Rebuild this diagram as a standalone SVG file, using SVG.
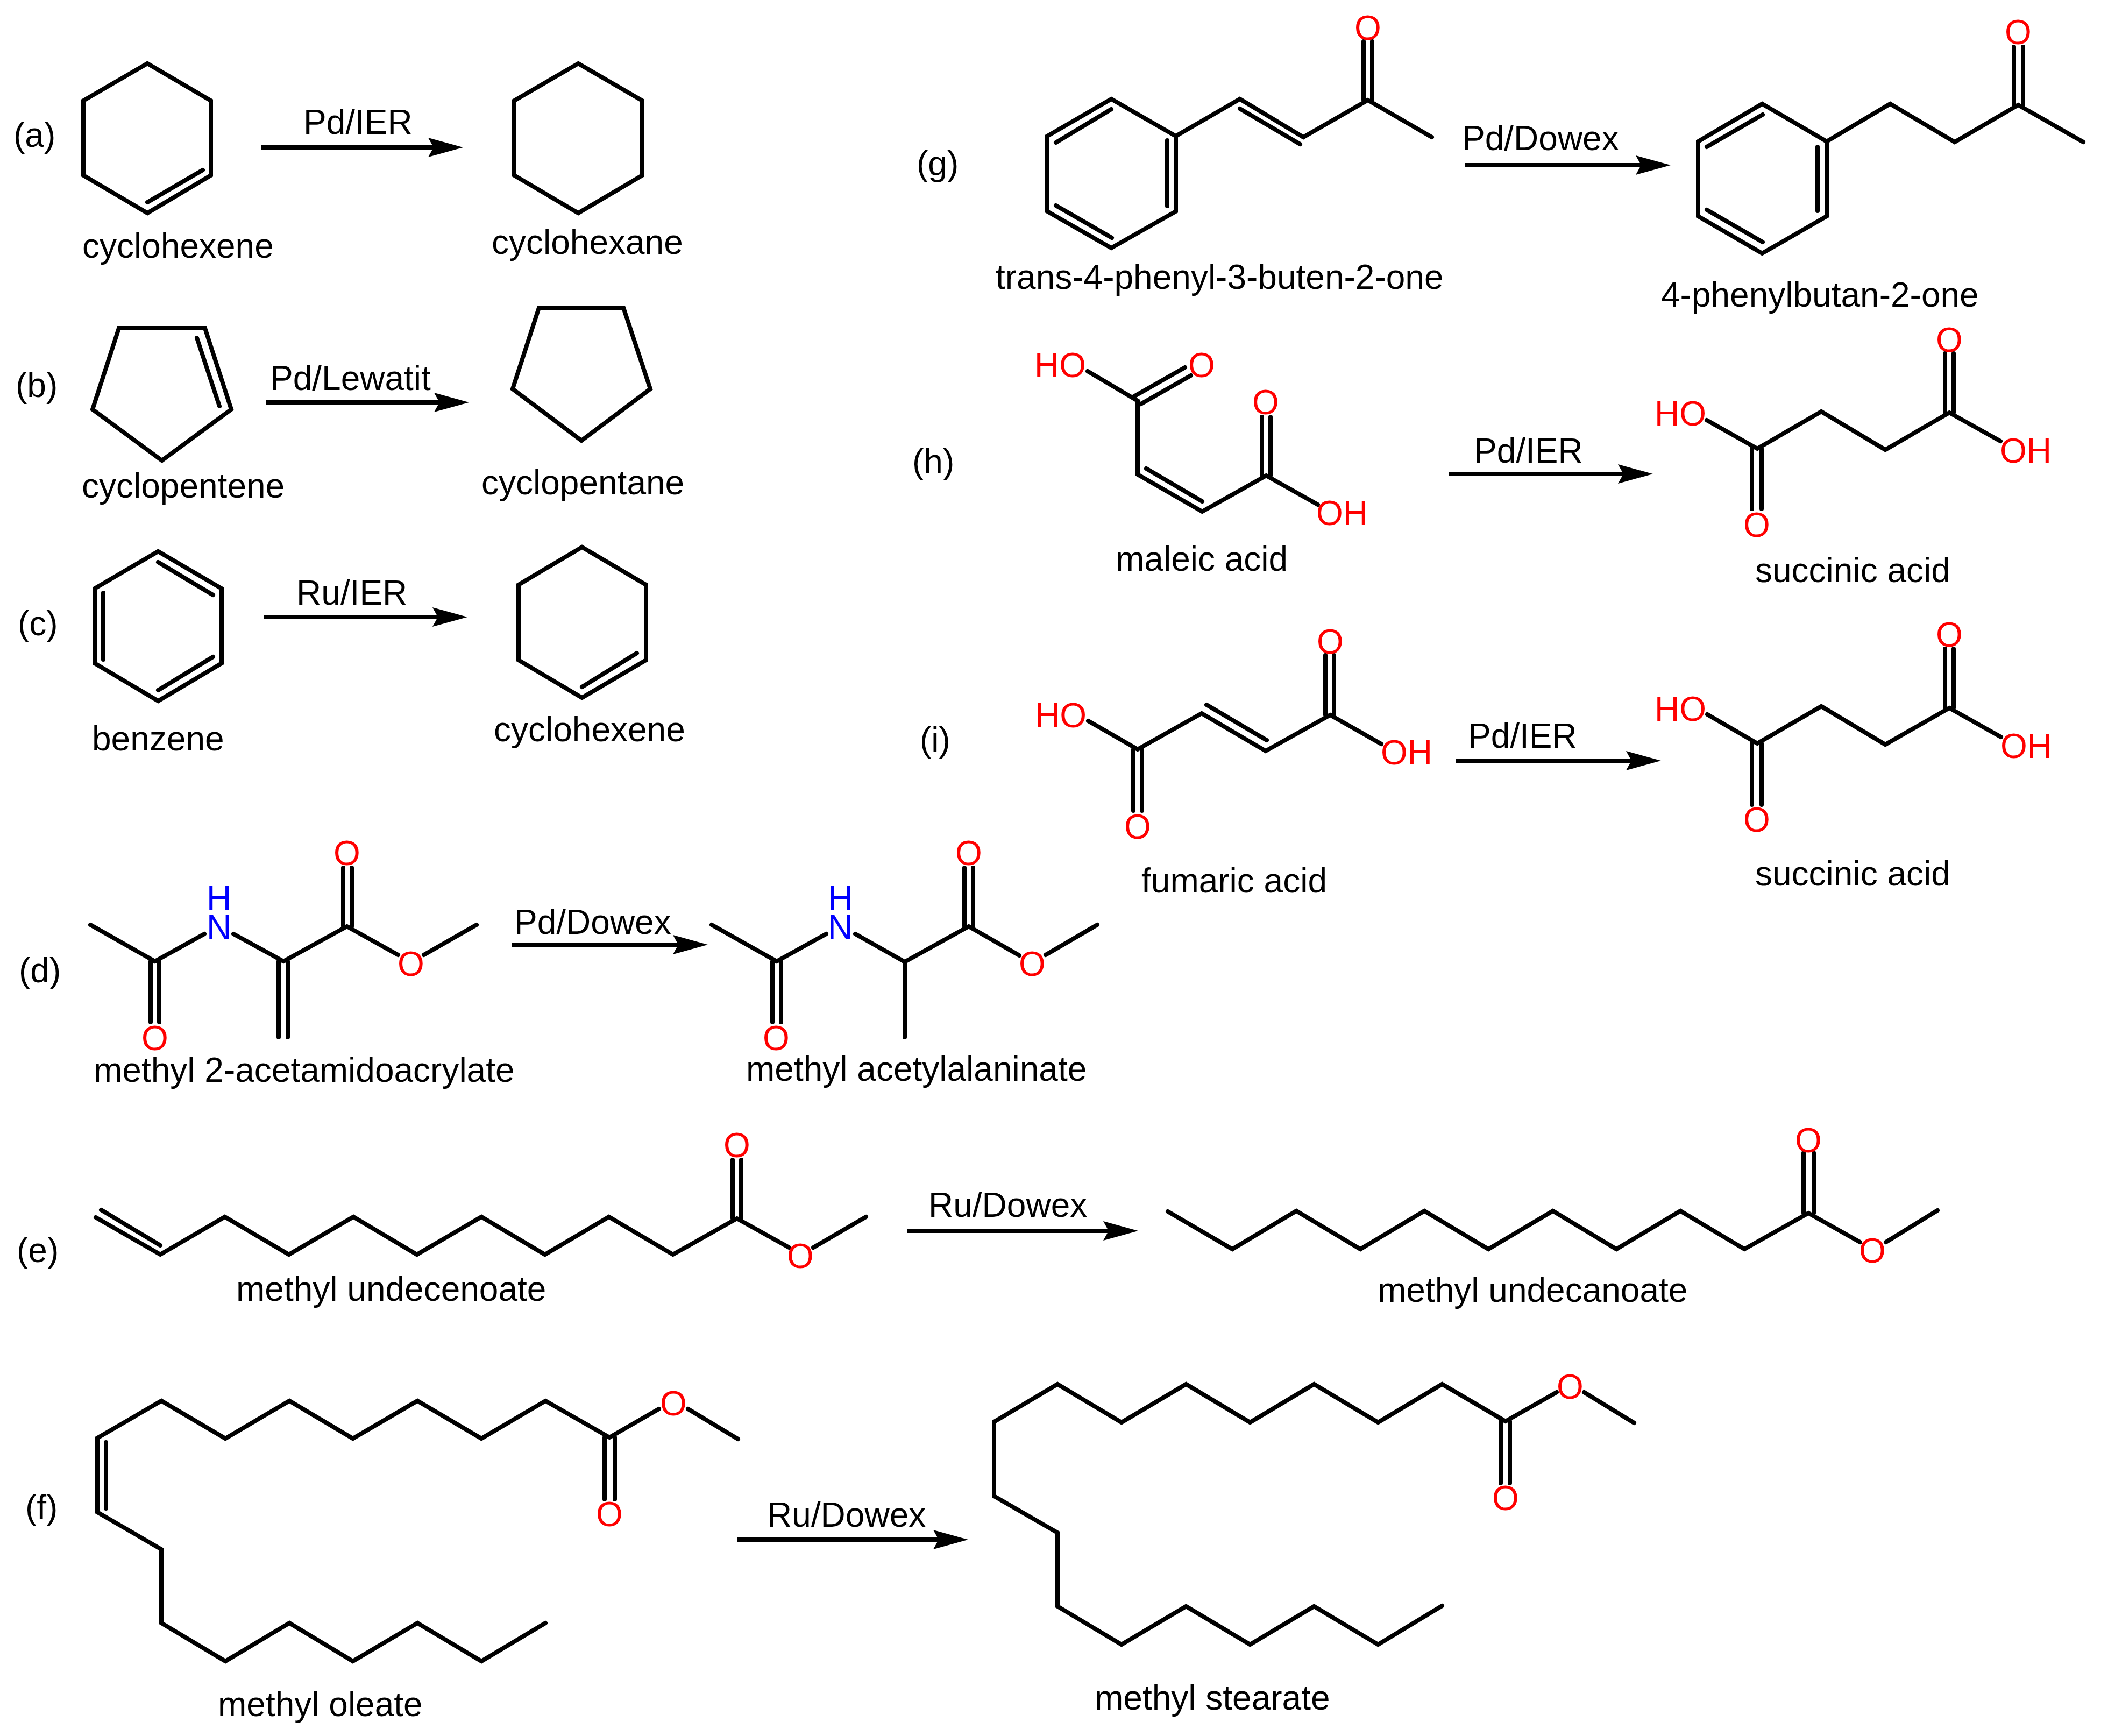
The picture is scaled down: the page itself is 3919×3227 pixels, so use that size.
<svg xmlns="http://www.w3.org/2000/svg" width="3919" height="3227" viewBox="0 0 3919 3227">
<style>
text{font-family:"Liberation Sans",Arial,sans-serif;font-size:64px;fill:#000}
.b{fill:none;stroke:#000;stroke-width:8;stroke-linecap:round;stroke-linejoin:miter;stroke-miterlimit:6}
.o{fill:#f00;text-anchor:middle}
.r{fill:#f00}
.n{fill:#00f;text-anchor:middle}
.a{fill:none;stroke:#000;stroke-width:8;marker-end:url(#head)}
</style>
<defs><marker id="head" markerUnits="userSpaceOnUse" markerWidth="65" markerHeight="36" viewBox="0 0 65 36" refX="12" refY="18" orient="auto"><path d="M0 0L65 18L0 36L10 18Z" fill="#000"/></marker></defs>
<rect width="3919" height="3227" fill="#fff"/>
<g id="connectors">
<path class="a" d="M485 274H808"/>
<path class="a" d="M495 748H819"/>
<path class="a" d="M491 1147H816"/>
<path class="a" d="M952 1756H1263"/>
<path class="a" d="M1686 2288H2063"/>
<path class="a" d="M1371 2862H1747"/>
<path class="a" d="M2724 307H3053"/>
<path class="a" d="M2693 881H3020"/>
<path class="a" d="M2707 1414H3035"/>
</g>
<g id="rxn-labels">
<text x="564" y="249">Pd/IER</text>
<text x="502" y="725">Pd/Lewatit</text>
<text x="551" y="1124">Ru/IER</text>
<text x="956" y="1736">Pd/Dowex</text>
<text x="1726" y="2262">Ru/Dowex</text>
<text x="1426" y="2838">Ru/Dowex</text>
<text x="2718" y="279">Pd/Dowex</text>
<text x="2740" y="860">Pd/IER</text>
<text x="2729" y="1390">Pd/IER</text>
<text x="25" y="273">(a)</text>
<text x="29" y="738">(b)</text>
<text x="33" y="1181">(c)</text>
<text x="35" y="1826">(d)</text>
<text x="31" y="2346">(e)</text>
<text x="47" y="2824">(f)</text>
<text x="1704" y="326">(g)</text>
<text x="1696" y="880">(h)</text>
<text x="1710" y="1397">(i)</text>
</g>
<g id="cyclohexene-a">
<path class="b" d="M274 118L392 187V326L274 396L155 326V187ZM377 316L274 376"/>
<text x="153" y="479">cyclohexene</text>
</g>
<g id="cyclohexane">
<path class="b" d="M1075 118L1194 187V326L1075 396L956 326V187Z"/>
<text x="914" y="472">cyclohexane</text>
</g>
<g id="cyclopentene">
<path class="b" d="M221 610H381L430 761L301 856L172 761ZM366 628L408 755"/>
<text x="152" y="925">cyclopentene</text>
</g>
<g id="cyclopentane">
<path class="b" d="M1002 572H1159L1209 723L1081 819L953 723Z"/>
<text x="895" y="919">cyclopentane</text>
</g>
<g id="benzene">
<path class="b" d="M294 1025L412 1094V1233L294 1303L176 1233V1094ZM294 1045L396 1106M192 1102V1226M396 1221L294 1283"/>
<text x="171" y="1395">benzene</text>
</g>
<g id="cyclohexene-c">
<path class="b" d="M1082 1017L1201 1087V1227L1082 1297L964 1227V1087ZM1184 1214L1082 1277"/>
<text x="918" y="1378">cyclohexene</text>
</g>
<g id="methyl-2-acetamidoacrylate">
<path class="b" d="M168 1719L288 1787L380 1736M280 1787V1900M296 1787V1900M434 1736L527 1787L645 1722L740 1775M788 1775L886 1719M518 1787V1928M535 1787V1928M638 1722V1613M654 1722V1613"/>
<text class="n"><tspan x="407" y="1692">H</tspan><tspan x="407" y="1746">N</tspan></text>
<text class="o" x="645" y="1608">O</text><text class="o" x="288" y="1952">O</text><text class="o" x="764" y="1814">O</text>
<text x="174" y="2011">methyl 2-acetamidoacrylate</text>
</g>
<g id="methyl-acetylalaninate">
<path class="b" d="M1323 1719L1444 1787L1536 1736M1436 1787V1900M1452 1787V1900M1590 1736L1682 1788L1801 1722L1895 1776M1944 1775L2040 1719M1682 1788V1928M1793 1722V1613M1809 1722V1613"/>
<text class="n"><tspan x="1562" y="1692">H</tspan><tspan x="1562" y="1746">N</tspan></text>
<text class="o" x="1801" y="1608">O</text><text class="o" x="1443" y="1952">O</text><text class="o" x="1919" y="1814">O</text>
<text x="1387" y="2009">methyl acetylalaninate</text>
</g>
<g id="methyl-undecenoate">
<path class="b" d="M178 2263L298 2332L418 2262L537 2332L657 2262L775 2332L895 2262L1013 2332L1132 2262L1251 2332L1370 2265L1467 2319M188 2249L298 2315M1512 2319L1610 2262M1362 2265V2156M1378 2265V2156"/>
<text class="o" x="1370" y="2151">O</text><text class="o" x="1488" y="2357">O</text>
<text x="439" y="2418">methyl undecenoate</text>
</g>
<g id="methyl-undecanoate">
<path class="b" d="M2171 2252L2291 2322L2410 2251L2529 2322L2648 2251L2767 2322L2887 2251L3005 2322L3124 2251L3243 2322L3362 2255L3458 2309M3506 2309L3602 2250M3353 2255V2143M3372 2255V2143"/>
<text class="o" x="3362" y="2142">O</text><text class="o" x="3481" y="2347">O</text>
<text x="2561" y="2420">methyl undecanoate</text>
</g>
<g id="methyl-oleate">
<path class="b" d="M1014 3017L895 3088L776 3017L656 3088L538 3017L419 3088L300 3017V2880L181 2811V2673L300 2604L419 2674L538 2604L656 2674L776 2604L895 2674L1014 2604L1133 2672L1225 2619M1279 2619L1372 2675M197 2681V2804M1124 2672V2787M1143 2672V2787"/>
<text class="o" x="1252" y="2631">O</text><text class="o" x="1133" y="2837">O</text>
<text x="405" y="3190">methyl oleate</text>
</g>
<g id="methyl-stearate">
<path class="b" d="M2681 2985L2562 3057L2443 2986L2324 3057L2205 2986L2085 3057L1966 2986V2849L1848 2781V2643L1966 2573L2085 2644L2205 2573L2324 2644L2443 2573L2562 2644L2681 2573L2799 2642L2894 2588M2945 2588L3038 2645M2790 2642V2757M2807 2642V2757"/>
<text class="o" x="2919" y="2600">O</text><text class="o" x="2799" y="2807">O</text>
<text x="2035" y="3178">methyl stearate</text>
</g>
<g id="trans-4-phenyl-3-buten-2-one">
<path class="b" d="M2066 184L2186 253V393L2066 461L1947 393V253ZM1963 265L2066 203M2170 261V383M1963 382L2067 442M2186 253L2305 184L2423 255L2543 186L2662 255M2305 202L2417 268M2535 186V77M2551 186V77"/>
<text class="o" x="2543" y="74">O</text>
<text x="1851" y="537">trans-4-phenyl-3-buten-2-one</text>
</g>
<g id="4-phenylbutan-2-one">
<path class="b" d="M3276 193L3396 263V402L3276 471L3157 402V263ZM3173 273L3277 213M3379 273V392M3173 390L3277 450M3396 263L3514 193L3634 264L3752 195L3873 264M3744 195V87M3761 195V87"/>
<text class="o" x="3752" y="82">O</text>
<text x="3088" y="570">4-phenylbutan-2-one</text>
</g>
<g id="maleic-acid">
<path class="b" d="M2022 690L2115 745V882L2235 951L2354 884L2450 938M2108 737L2203 683M2121 751L2214 698M2131 871L2235 932M2346 884V775M2362 884V775"/>
<text class="r" x="1923" y="701">HO</text><text class="o" x="2234" y="701">O</text><text class="o" x="2353" y="770">O</text><text class="r" x="2447" y="976">OH</text>
<text x="2074" y="1061">maleic acid</text>
</g>
<g id="succinic-acid-h">
<path class="b" d="M3173 781L3267 834L3386 765L3505 836L3624 767L3719 820M3257 834V946M3275 834V946M3616 767V657M3632 767V657"/>
<text class="r" x="3076" y="791">HO</text><text class="o" x="3624" y="654">O</text><text class="o" x="3266" y="998">O</text><text class="r" x="3718" y="860">OH</text>
<text x="3263" y="1082">succinic acid</text>
</g>
<g id="fumaric-acid">
<path class="b" d="M2023 1340L2115 1393L2234 1326L2353 1396L2473 1329L2568 1383M2243 1310L2355 1376M2107 1393V1507M2123 1393V1507M2464 1329V1218M2480 1329V1218"/>
<text class="r" x="1924" y="1352">HO</text><text class="o" x="2473" y="1215">O</text><text class="o" x="2115" y="1559">O</text><text class="r" x="2567" y="1421">OH</text>
<text x="2122" y="1659">fumaric acid</text>
</g>
<g id="succinic-acid-i">
<path class="b" d="M3174 1328L3267 1382L3386 1313L3505 1384L3624 1316L3720 1370M3257 1382V1496M3275 1382V1496M3616 1316V1206M3632 1316V1206"/>
<text class="r" x="3076" y="1340">HO</text><text class="o" x="3624" y="1202">O</text><text class="o" x="3266" y="1546">O</text><text class="r" x="3719" y="1409">OH</text>
<text x="3263" y="1646">succinic acid</text>
</g>
</svg>
